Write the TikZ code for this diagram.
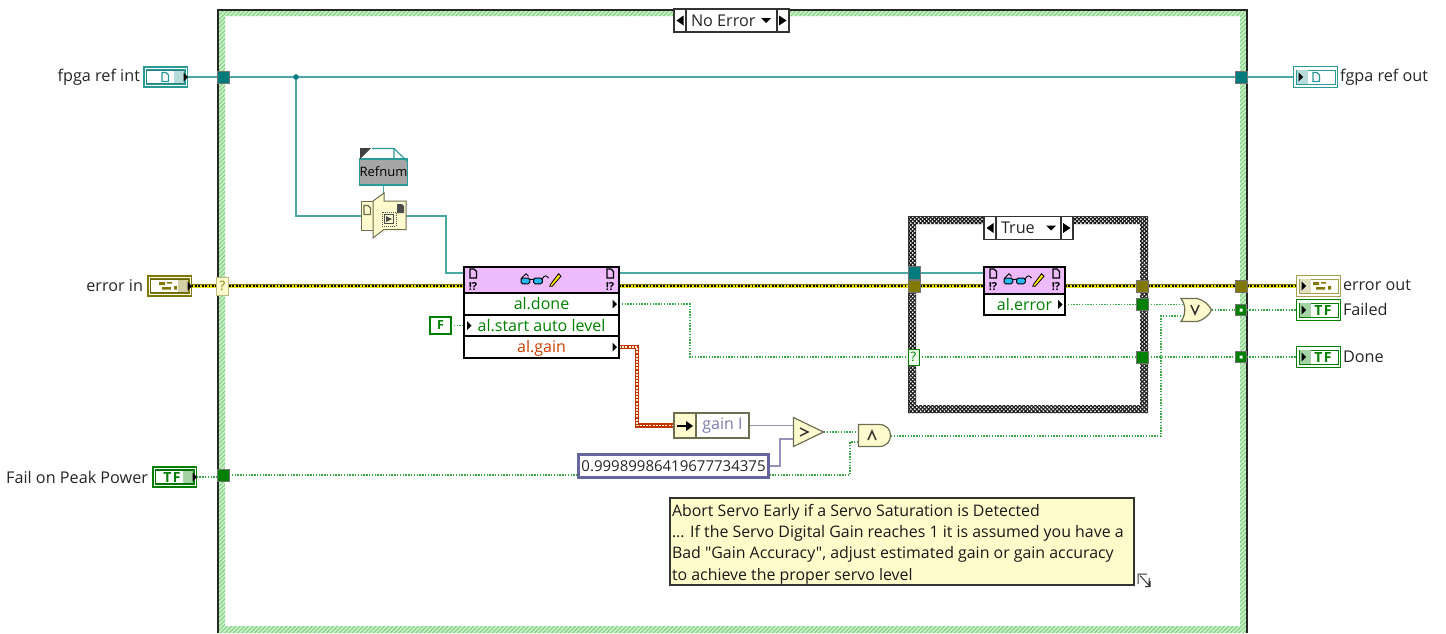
\documentclass[tikz,border=0pt]{standalone}
\usepackage{fontspec}
\setmainfont{Open Sans}
\newfontfamily\plainfont{Open Sans}
\usetikzlibrary{patterns.meta,backgrounds,calc}
\definecolor{tealw}{HTML}{4BA8A4}
\definecolor{tealt}{HTML}{007B7B}
\definecolor{termt}{HTML}{2A9A98}
\definecolor{grn}{HTML}{008000}
\definecolor{grnw}{HTML}{38A848}
\definecolor{oliv}{HTML}{807800}
\definecolor{olivl}{HTML}{A6A04D}
\definecolor{nodey}{HTML}{FFFBCF}
\definecolor{bord}{HTML}{6E6E50}
\definecolor{purp}{HTML}{66669E}
\definecolor{hatchg}{HTML}{C4F7C4}
\definecolor{hatchd}{HTML}{8CC88C}
\definecolor{pink}{HTML}{EDBBFB}
\tikzset{
  every node/.style={inner sep=0pt,outer sep=0pt,font=\fontsize{16.2}{19}\selectfont},
  sq/.style={minimum width=#1,minimum height=12,draw=black!55,line width=.8},
  tuntl/.style={sq=12,fill=tealt},
  tunol/.style={sq=12,fill=oliv},
  tungr/.style={sq=12,fill=grn},
  txtl/.style={text=black!85},
  rowbox/.style={draw=black,line width=1.3,fill=white,font=\fontsize{16}{19}\selectfont,text height=14,text depth=3},
  tealwire/.style={draw=tealw,line width=1.4},
  greenwire/.style={draw=grnw,line width=1.2,dash pattern=on 1.4pt off 1.4pt},
  purpwire/.style={draw=purp!70,line width=1.4},
  errwire/.style={draw=oliv,line width=4.4,postaction={draw=yellow!90!black,line width=3},postaction={draw=black,line width=1.4,dash pattern=on 1.8pt off 1.6pt}},
  gainwire/.style={draw=orange!55!red!75!black,line width=4.6,postaction={draw=white!85!orange,line width=1.6,dash pattern=on 2pt off 1.2pt}},
  ghost/.style={draw=none,fill=none},
  selbox/.style={draw=black!80,line width=1.1,fill=white},
}
\newcommand{\docicon}[3]{\draw[#3,line width=1.2] (#1-3,#2-4.5)--(#1+1,#2-4.5)--(#1+3.5,#2-2)--(#1+3.5,#2+4.5)--(#1-3,#2+4.5)--cycle;}
\newcommand{\bangq}[2]{\node (bq#1#2) at (#1,#2) {\fontsize{11}{11}\selectfont\bfseries !?};}
\newcommand{\errglyph}[2]{\fill[oliv] (#1-9,#2-4) rectangle (#1-3,#2-1) (#1-1,#2-4) rectangle (#1+4,#2-2.5) (#1-6,#2+1) rectangle (#1+3,#2+3.5) (#1+6,#2) rectangle (#1+9,#2+3.5);}
\newcommand{\tfglyph}[3]{\node[text=grn] (#3) at (#1,#2) {\fontsize{14}{14}\selectfont\bfseries T\kern1.5pt F};}
% control terminal: name,x,y,colour
\newcommand{\ctl}[4]{
  \node[draw=#4,line width=1.2,fill=#4,minimum width=44,minimum height=21] (#1) at (#2,#3) {};
  \draw[white,line width=.5] (#2-20.5,#3-8.5) rectangle (#2+20.5,#3+8.5);
  \draw[#4!85!black,fill=white,line width=.9] (#2-19,#3-6.5) rectangle (#2+18,#3+6.5);
  \fill[#4!35] (#2+8,#3-6) rectangle (#2+18,#3+6);
  \fill[black] (#2+18,#3-4.5)--(#2+22.5,#3)--(#2+18,#3+4.5)--cycle;
}
% indicator terminal
\newcommand{\ind}[4]{
  \node[draw=#4,line width=1.3,fill=white,minimum width=44,minimum height=21] (#1) at (#2,#3) {};
  \draw[#4,line width=1] (#2-19,#3-7) rectangle (#2+20,#3+7);
  \fill[#4!35] (#2-19,#3-7) rectangle (#2-8,#3+7);
  \fill[black] (#2-17,#3-4.5)--(#2-12.5,#3)--(#2-17,#3+4.5)--cycle;
}
\newcommand{\glasses}[2]{
  \begin{scope}[shift={(#1,#2)},scale=1.25]
  \draw[black,line width=1,fill=cyan!85!white,rounded corners=1.5] (-14,-1.5) rectangle (-7,3);
  \draw[black,line width=1,fill=cyan!85!white,rounded corners=1.5] (-4,-1.5) rectangle (3,3);
  \draw[black,line width=.9] (-7,-.5)--(-4,-.5) (-14,-1) -- (-10,-5) -- (-8,-3) (3,-1) .. controls (5,-4) and (6,-4) .. (8,-1.5);
  \draw[black,line width=.8,fill=yellow!90!orange] (10,3)--(9,5)--(11,5)--(18,-3)--(16,-5)--cycle;
  \end{scope}
}
\begin{document}
\begin{tikzpicture}[x=1pt,y=-1pt]
\useasboundingbox (0,0) rectangle (1446,633);
\begin{scope}[on background layer]
\fill[white] (0,0) rectangle (1446,633);
% outer frame
\fill[hatchg,even odd rule] (217,9) rectangle (1247,633) (225,16) rectangle (1240,626);
\fill[even odd rule,pattern={Lines[angle=45,distance=3pt,line width=1.1pt]},pattern color=hatchd] (217,9) rectangle (1247,633) (225,16) rectangle (1240,626);
\draw[black!85,line width=1.6] (217.8,633)--(217.8,9.8)--(1246.8,9.8)--(1246.8,633);
% inner frame
\fill[white] (908,216) rectangle (1148,413);
\fill[even odd rule,pattern={Lines[angle=45,distance=2.8pt,line width=1.2pt]},pattern color=black!90] (908,216) rectangle (1148,413) (916,224) rectangle (1140,405);
\fill[even odd rule,pattern={Lines[angle=-45,distance=2.8pt,line width=1.2pt]},pattern color=black!90] (908,216) rectangle (1148,413) (916,224) rectangle (1140,405);
\draw[black!80,line width=1.3] (908.5,216.5) rectangle (1147.5,412.5);
\end{scope}

% selectors
\node[selbox,minimum width=12,minimum height=23] (noL) at (680,20.5) {};
\node[selbox,minimum width=91,minimum height=23] (noM) at (731.5,20.5) {};
\node[selbox,minimum width=12,minimum height=23] (noR) at (783,20.5) {};
\node[anchor=west,txtl] (noT) at (691,20.5) {No Error};
\fill[black] (683.5,15.5)--(676.5,20.5)--(683.5,25.5)--cycle;
\fill[black] (779,15.5)--(786.5,20.5)--(779,25.5)--cycle;
\fill[black] (761,18)--(771,18)--(766,23)--cycle;

\node[selbox,minimum width=12,minimum height=23] (trL) at (990,228) {};
\node[selbox,minimum width=65,minimum height=23] (trM) at (1028.5,228) {};
\node[selbox,minimum width=12,minimum height=23] (trR) at (1067,228) {};
\node[anchor=west,txtl] (trT) at (1001,228) {True};
\fill[black] (993.5,223)--(986.5,228)--(993.5,233)--cycle;
\fill[black] (1063,223)--(1070.5,228)--(1063,233)--cycle;
\fill[black] (1046,225.5)--(1056,225.5)--(1051,230.5)--cycle;

% terminals
\ctl{tFpgaIn}{165.5}{77}{termt}
\docicon{165}{77}{termt}
\node[anchor=east,txtl] (lFpgaIn) at (140,77) {fpga ref int};
\ctl{tErrIn}{169.5}{286}{oliv}
\errglyph{168}{286}
\node[anchor=east,txtl] (lErrIn) at (143,285.5) {error in};
\ctl{tFail}{174.5}{477}{grn}
\tfglyph{172}{477}{gFail}
\node[anchor=east,txtl] (lFail) at (148,477) {Fail on Peak Power};
\ind{tFpgaOut}{1315.5}{77}{termt}
\docicon{1316}{77}{termt}
\node[anchor=west,txtl] (lFpgaOut) at (1340,77) {fgpa ref out};
\ind{tErrOut}{1318.5}{286}{olivl}
\errglyph{1322}{286}
\node[anchor=west,txtl] (lErrOut) at (1343,285.5) {error out};
\ind{tFailed}{1318.5}{310}{grn}
\tfglyph{1323}{310}{gFailed}
\node[anchor=west,txtl] (lFailed) at (1343,309.5) {Failed};
\ind{tDone}{1318.5}{357}{grn}
\tfglyph{1323}{357}{gDone}
\node[anchor=west,txtl] (lDone) at (1343,357) {Done};

% outer tunnels
\node[tuntl] (tunL) at (223,77) {};
\node[tuntl] (tunR) at (1241,77) {};
\node[tungr] (tunFail) at (223,475) {};
\node[tunol] (tunErrR) at (1241,286) {};
\node[sq=11,minimum height=11,fill=grn] (tunFailedR) at (1241,310) {};
\node[sq=11,minimum height=11,fill=grn] (tunDoneR) at (1241,357) {};
\fill[white] (1239.5,308.5) rectangle (1242.5,311.5) (1239.5,355.5) rectangle (1242.5,358.5);
\node[draw=oliv!50,line width=.8,fill=nodey,minimum width=12,minimum height=18,text=oliv] (selErr) at (222.5,286) {\fontsize{13}{13}\selectfont ?};
\fill[tealt] (296,77) circle (2.8);
\node[minimum size=5] (jct) at (296,77) {};

% refnum constant
\node[draw=termt,line width=1.1,fill=black!35,minimum width=47,minimum height=26,text=black] (refn) at (383.5,172) {\fontsize{13}{13}\selectfont Refnum};
\draw[termt,line width=1.1] (372,148.5)--(394,148.5)--(407,161) (394,148.5)--(394,159);
\fill[black!75] (360,148)--(371,148)--(360,159)--cycle;

% node with flap
\node[ghost,minimum width=45,minimum height=30] (rdr) at (383.5,216) {};
\draw[bord,line width=1,fill=nodey] (361,201) rectangle (373,230);
\draw[bord,line width=1,fill=nodey] (373,201)--(384,193)--(384,201)--(406,201)--(406,229.5)--(384,229.5)--(373,238)--cycle;
\docicon{367}{210}{bord}
\fill[black!70] (397,204)--(402,204)--(404,206)--(404,213)--(397,213)--cycle;
\draw[black!70,line width=.9,dash pattern=on 1pt off 1pt] (382,212) rectangle (396,226);
\draw[black!70,line width=.9] (384.5,214.5) rectangle (393.5,223.5);
\fill[black!70] (386,216)--(392,219)--(386,222)--cycle;

% property node 1
\node[rowbox,fill=pink,minimum width=155,minimum height=26] (pnHead) at (541.5,280) {};
\node[rowbox,minimum width=155,minimum height=22,text=green!50!black] (pnDone) at (541.5,304) {al.done};
\node[rowbox,minimum width=155,minimum height=21,text=green!50!black] (pnStart) at (541.5,325.5) {al.start auto level};
\node[rowbox,minimum width=155,minimum height=22,text=orange!60!red!80!black] (pnGain) at (541.5,347) {al.gain};
\docicon{473}{273.5}{black}
\docicon{610}{273.5}{black}
\bangq{473}{287}
\bangq{610}{287}
\glasses{538.5}{280}
\fill[black] (612.5,299.5)--(617,304)--(612.5,308.5)--cycle;
\fill[black] (467,321)--(471.5,325.5)--(467,330)--cycle;
\fill[black] (612.5,342.5)--(617,347)--(612.5,351.5)--cycle;
\coordinate (pnTealL) at (464,273);
\coordinate (pnTealR) at (619,273);
\node[draw=grn,line width=2.4,fill=white,minimum width=21,minimum height=17,text=grn] (fConst) at (440.5,325.5) {\fontsize{12.5}{12.5}\selectfont\bfseries F};

% property node 2
\node[rowbox,fill=pink,minimum width=81,minimum height=27] (inHead) at (1024.5,280.5) {};
\node[rowbox,minimum width=81,minimum height=21,text=green!50!black] (inErr) at (1024.5,304.5) {al.error};
\docicon{993}{273.5}{black}
\docicon{1056}{273.5}{black}
\bangq{993}{287}
\bangq{1056}{287}
\glasses{1021.5}{280}
\fill[black] (1058,300)--(1062.5,304.5)--(1058,309)--cycle;
\coordinate (inTeal) at (984,273);

% inner tunnels
\node[tuntl,minimum height=13] (tunTeal) at (914,273) {};
\node[tunol] (tunErrIL) at (914,286) {};
\node[tunol] (tunErrIR) at (1142,286) {};
\node[tungr] (tunErrBool) at (1142,304.5) {};
\node[tungr] (tunDoneI) at (1142,357) {};
\node[draw=grn,line width=.8,fill=green!8!white,minimum width=11,minimum height=16,text=grn] (selDone) at (913.5,357) {\fontsize{13}{13}\selectfont ?};

% gain unbundle
\node[draw=bord,line width=1.2,fill=nodey,minimum width=22,minimum height=25] (gArrow) at (685,425.5) {};
\node[draw=bord,line width=1.2,fill=white,minimum width=53,minimum height=25,text=purp!85,font=\fontsize{16}{19}\selectfont] (gName) at (722.5,425.5) {gain I};
\draw[black,line width=2.2] (677,426)--(687,426);
\fill[black] (686,421)--(693,426)--(686,431)--cycle;

% constant
\node[draw=purp,line width=2.8,fill=white,minimum width=190,minimum height=23,text=black!85,font=\fontsize{15}{18}\selectfont] (cst) at (673.5,466) {0.99989986419677734375};

% comparator and gates
\node[ghost,minimum width=31,minimum height=30] (gt) at (808.5,432) {};
\draw[bord,line width=1.2,fill=nodey] (793.5,417.5)--(823.5,432)--(793.5,446.5)--cycle;
\draw[black!80,line width=1.5] (800,428)--(808,432)--(800,436);
\node[ghost,minimum width=33,minimum height=23] (andg) at (874.5,435.5) {};
\draw[bord,line width=1.2,fill=nodey] (858.5,424.5)--(879,424.5) .. controls (887,424.5) and (890.5,430) .. (890.5,435.5) .. controls (890.5,441) and (887,446.5) .. (879,446.5)--(858.5,446.5)--cycle;
\draw[black!80,line width=1.5] (868,440)--(872,431)--(876,440);
\node[ghost,minimum width=31,minimum height=23] (org) at (1196.5,310) {};
\draw[bord,line width=1.2,fill=nodey] (1181,298.5)--(1197,298.5) .. controls (1204,300) and (1209,305) .. (1211.5,310) .. controls (1209,315) and (1204,320) .. (1197,321.5)--(1181,321.5) .. controls (1186,315) and (1186,305) .. cycle;
\draw[black!80,line width=1.5] (1191,305)--(1195,314)--(1199,305);
\coordinate (orA) at (1183,304.5);
\coordinate (orB) at (1183,316);
\coordinate (gtA) at (793.5,425.5);
\coordinate (gtB) at (793.5,439);
\coordinate (andA) at (858.5,432);
\coordinate (andB) at (858.5,442);

% comment
\node[draw=black!80,line width=1.2,fill=yellow!20!white,minimum width=464,minimum height=87] (cmtbox) at (902,541.5) {};
\node[anchor=north west,align=left,text=black!90,font=\plainfont\fontsize{15.9}{21.4}\selectfont] (cmt) at (672,504) {Abort Servo Early if a Servo Saturation is Detected\\... If the Servo Digital Gain reaches 1 it is assumed you have a\\Bad "Gain Accuracy", adjust estimated gain or gain accuracy\\to achieve the proper servo level};
\draw[black!80,line width=1] (1149,578)--(1149,586) (1138,584)--(1138,574)--(1147,574) (1140,575.5)--(1150,586.5) (1145,586.5)--(1150,586.5)--(1150,581);

% connectors
\begin{scope}[on background layer]
\coordinate (b1) at (446,216);
\coordinate (b2) at (690,304);
\coordinate (b3) at (637,347);
\coordinate (b4) at (850,475);
\coordinate (b5) at (780,466);
\coordinate (b6) at (1161,436);
\draw[tealwire] (tFpgaIn.east)--(tunL.west);
\draw[tealwire] (tunL.east)--(tunR.west);
\draw[tealwire] (tunR.east)--(tFpgaOut.west);
\draw[tealwire] (jct.center)|-(rdr.west);
\draw[tealwire] (refn.south)--(rdr.north);
\draw[tealwire] (rdr.east)--(b1)--(b1|-pnTealL)--(pnTealL);
\draw[tealwire] (pnTealR)--(tunTeal.west);
\draw[tealwire] (tunTeal.east)--(inTeal);
\draw[errwire] (tErrIn.east)--(pnHead.west|-selErr);
\draw[errwire] (pnHead.east|-selErr)--(tunErrIL.west);
\draw[errwire] (tunErrIL.east)--(inHead.west|-tunErrIL);
\draw[errwire] (inHead.east|-tunErrIR)--(tunErrIR.west);
\draw[errwire] (tunErrIR.east)--(tunErrR.west);
\draw[errwire] (tunErrR.east)--(tErrOut.west);
\draw[greenwire] (fConst.east)--(pnStart.west);
\draw[greenwire] (pnDone.east)--(b2)--(b2|-selDone)--(selDone.west);
\draw[greenwire] (selDone.east)--(tunDoneI.west);
\draw[greenwire] (tunDoneI.east)--(tunDoneR.west);
\draw[greenwire] (tunDoneR.east)--(tDone.west);
\draw[greenwire] (inErr.east)--(tunErrBool.west);
\draw[greenwire] (tunErrBool.east)--(orA);
\draw[greenwire] (org.east)--(tunFailedR.west);
\draw[greenwire] (tunFailedR.east)--(tFailed.west);
\draw[greenwire] (tFail.east)--(tunFail.west|-tFail);
\draw[greenwire] (tunFail.east)--(b4)--(b4|-andB)--(andB);
\draw[greenwire] (gt.east)--(andA);
\draw[greenwire] (andg.east|-b6)--(b6)--(b6|-orB)--(orB);
\draw[gainwire] (pnGain.east)--(b3)--(b3|-gArrow)--(gArrow.west);
\draw[purpwire] (gName.east)--(gtA);
\draw[purpwire] (cst.east)--(b5)--(b5|-gtB)--(gtB);
\end{scope}
\end{tikzpicture}
\end{document}
